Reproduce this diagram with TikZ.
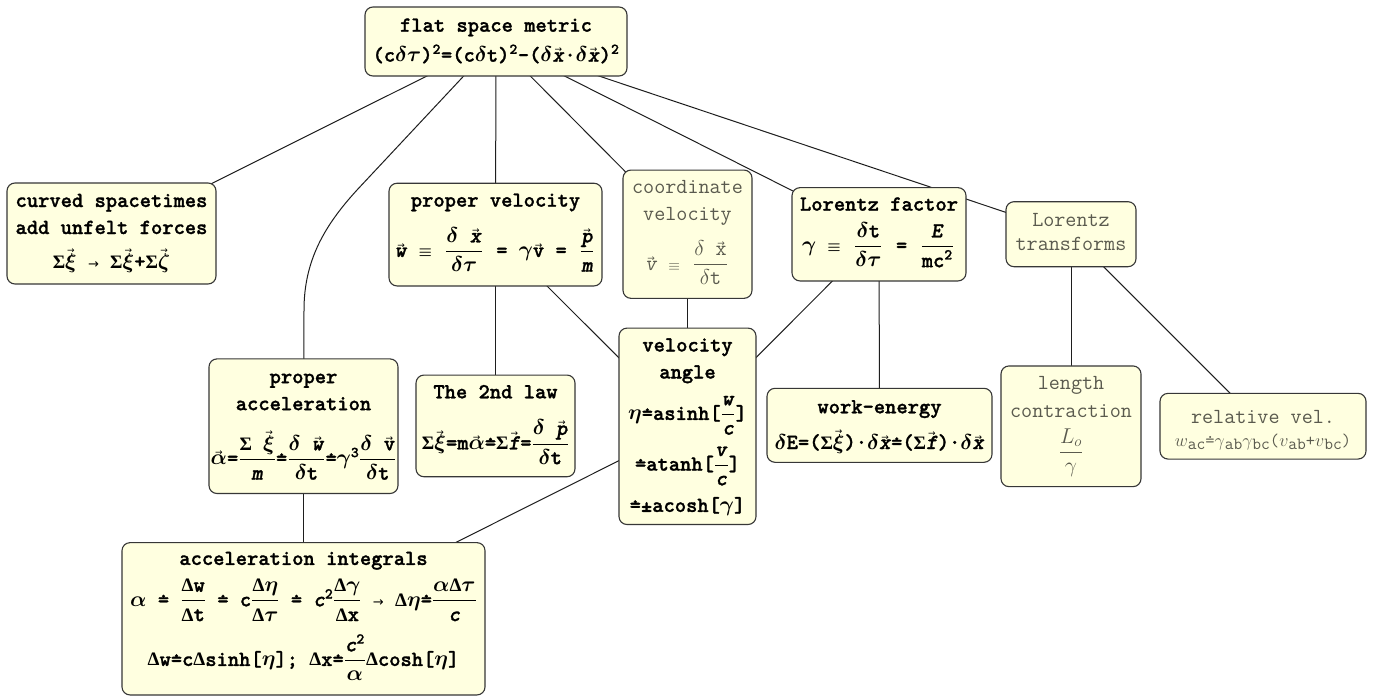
\RequirePackage{fix-cm}
\documentclass[tikz,border=0pt]{standalone}
\usepackage{amsmath}
\usepackage{graphicx}
\usepackage{fontspec}
\newfontfamily\dejavu{DejaVu Sans}
\newfontfamily\lserif{Liberation Serif}
\newfontfamily\mb{lmmonolt10-bold}[Extension=.otf, FakeBold=1.3,
  ItalicFont=lmmonolt10-boldoblique, SlantedFont=lmmonolt10-boldoblique,
  BoldFont=lmmonolt10-bold]
\usetikzlibrary{backgrounds}
\definecolor{boxfill}{RGB}{255,255,224}
\definecolor{boxline}{RGB}{55,55,55}
\definecolor{graytext}{RGB}{90,90,78}
\definecolor{linkcol}{RGB}{30,30,30}
\newsavebox\vvbox
\newlength\vvh
\newcommand\vv[1]{\sbox\vvbox{#1}\setlength\vvh{\ht\vvbox}\addtolength\vvh{-0.5pt}\leavevmode\rlap{\makebox[\wd\vvbox]{\raisebox{\vvh}{\fontsize{9}{9}\selectfont\dejavu →}}}\usebox\vvbox}
\newcommand\deq{\leavevmode\rlap{\makebox[0.525em]{\raisebox{.40em}{.}}}=}
\newcommand\I[1]{\textsl{#1}}
\newcommand\bg[1]{$\boldsymbol{#1}$}
\newcommand\Sg{{\lserif\bfseries\fontsize{19}{19}\selectfont Σ}}
\newcommand\Dl{{\lserif\bfseries\fontsize{19}{19}\selectfont Δ}}
\newcommand\eqv{{\fontsize{15}{15}\selectfont$\boldsymbol{\equiv}$}}
\newcommand\ar{{\fontsize{13}{13}\selectfont\dejavu →}}
\newcommand\fr[2]{$\genfrac{}{}{1pt}{0}{\text{#1}}{\text{#2}}$}
\newcommand\frs[2]{\hspace{2pt}$\genfrac{}{}{1pt}{0}{\text{#1}}{\text{#2}}$\hspace{2pt}}
\newcommand\tS[1]{\rule{0pt}{#1pt}}
\newcommand\bS[1]{\rule[-#1pt]{0pt}{#1pt}}
\newcommand\lsub[1]{\raisebox{-3pt}{\fontsize{17}{17}\selectfont #1}}
\newcommand\mysetup{\lineskiplimit-200pt\relax}
\newcommand\blackfont{\mb\fontsize{21.5}{27}\selectfont\mysetup}
\newcommand\grayfont{\ttfamily\mdseries\fontsize{21.5}{27}\selectfont\mysetup}
\begin{document}
\begin{tikzpicture}[x=1pt,y=-1pt,
  box/.style={draw=boxline, fill=boxfill, rounded corners=8pt, line width=1.1pt,
    align=center, inner sep=0pt, font=\blackfont},
  gbox/.style={box, text=graytext, font=\grayfont},
  link/.style={draw=linkcol, line width=1pt}]
\useasboundingbox (0,0) rectangle (1383,696);

\node[box, minimum width=262, minimum height=69] (flat) at (496,41.5)
 {\tS{24.7}flat space metric\\[3pt]
  (c\bg{\delta\tau})\textsuperscript{2}=(c\bg{\delta}t)\textsuperscript{2}-(\bg{\delta}\vv{\I{x}}·\bg{\delta}\vv{\I{x}})\textsuperscript{2}\bS{14.3}};

\node[box, minimum width=209, minimum height=101] (curved) at (111.5,233.5)
 {\tS{24}curved spacetimes\\[0pt]add unfelt forces\\[7pt]
  \Sg\vv{\bg{\xi}} \ar{} \Sg\vv{\bg{\xi}}+\Sg\vv{\bg{\zeta}}\bS{16}};

\node[box, minimum width=213, minimum height=102.7] (pvel) at (495.5,234.6)
 {\tS{23.4}proper velocity\\[23.3pt]
  \vv{\I{w}} \eqv{} \frs{\bg{\delta} \vv{\I{x}}}{\bg{\delta\tau}} = \bg{\gamma}\vv{v} = \frs{\vv{\I{p}}}{\I{m}}\bS{29}};

\node[gbox, minimum width=129, minimum height=128.3] (cvel) at (687.5,234.2)
 {\tS{23.3}coordinate\\[0.4pt]velocity\\[22.3pt]
  \vv{\I{v}} {\fontsize{15}{15}\selectfont$\equiv$} \frs{$\delta$ \vv{x}}{$\delta$t}\bS{28.3}};

\node[box, minimum width=174, minimum height=93.3] (lfac) at (879,234.3)
 {\tS{23}Lorentz factor\\[14.3pt]
  \bg{\gamma} \eqv{} \frs{\bg{\delta}t}{\bg{\delta\tau}} = \frs{\I{E}}{mc\textsuperscript{2}}\bS{29}};

\node[gbox, minimum width=130, minimum height=65] (ltr) at (1071,234.2)
 {\tS{25}Lorentz\\[-3pt]transforms\bS{16}};

\node[box, minimum width=189, minimum height=134.3] (pacc) at (303.5,426.2)
 {\tS{24.3}proper\\[0pt]acceleration\\[27.7pt]
  \vv{\bg{\alpha}}=\fr{\Sg{} \vv{\bg{\xi}}}{\I{m}}\deq\fr{\bg{\delta} \vv{\I{w}}}{\bg{\delta}t}\deq\bg{\gamma}\textsuperscript{3}\fr{\bg{\delta} \vv{v}}{\bg{\delta}t}\bS{28.6}};

\node[box, minimum width=159, minimum height=101.7] (law2) at (495.5,425.9)
 {\tS{23.3}The 2nd law\\[24.1pt]
  \Sg\vv{\bg{\xi}}=m\vv{\bg{\alpha}}\deq\Sg\vv{\I{f}}=\fr{\bg{\delta} \vv{\I{p}}}{\bg{\delta}t}\bS{27.3}};

\node[box, minimum width=137, minimum height=196] (vang) at (687.5,426.3)
 {\tS{23.4}velocity\\[0pt]angle\\[14.4pt]
  \bg{\eta}\deq asinh[\fr{\I{w}}{\I{c}}]\\[23.7pt]
  \deq atanh[\fr{\I{v}}{\I{c}}]\\[14.3pt]
  \deq±acosh[\bg{\gamma}]\bS{12.6}};

\node[box, minimum width=225, minimum height=74] (work) at (879.5,425.3)
 {\tS{25}work-energy\\[8.7pt]
  \bg{\delta}E=(\Sg\vv{\bg{\xi}})·\bg{\delta}\vv{\I{x}}\deq(\Sg\vv{\I{f}})·\bg{\delta}\vv{\I{x}}\bS{13.3}};

\node[gbox, minimum width=140, minimum height=120.7] (lcon) at (1071,426.3)
 {\tS{24}length\\[0.3pt]contraction\\[13.7pt]
  $\genfrac{}{}{1pt}{0}{L_o}{\gamma}$\bS{28.7}};

\node[gbox, minimum width=206, minimum height=65.7] (rvel) at (1263,426.2)
 {\tS{30}relative vel.\\[-4.3pt]
  {\fontsize{18}{18}\selectfont $w$\lsub{ac}\deq$\gamma$\lsub{ab}$\gamma$\lsub{bc}($v$\lsub{ab}+$v$\lsub{bc})}\bS{13}};

\node[box, minimum width=363, minimum height=152.3] (aint) at (303.5,618.8)
 {\tS{22.3}acceleration integrals\\[14.4pt]
  \bg{\alpha} \deq{} \fr{\Dl{}w}{\Dl{}t} \deq{} c\fr{\Dl\bg{\eta}}{\Dl\bg{\tau}} \deq{} \I{c}\textsuperscript{2}\fr{\Dl\bg{\gamma}}{\Dl{}x} \ar{} \Dl\bg{\eta}\deq\fr{\bg{\alpha}\Dl\bg{\tau}}{\I{c}}\\[32.6pt]
  \Dl{}w\deq c\Dl{}sinh[\bg{\eta}]; \Dl{}x\deq\fr{\I{c}\textsuperscript{2}}{\bg{\alpha}}\Dl{}cosh[\bg{\eta}]\bS{29}};

\coordinate (k1) at (357,190);
\coordinate (k2) at (304,310);

\begin{scope}[on background layer]
  \fill[white] (0,0) rectangle (1383,696);
  \draw[link] (flat.center) -- (curved.center);
  \draw[link] (flat.center) -- (k1) .. controls (325,225) and (304,260) .. (k2) -- (pacc.center);
  \draw[link] (flat.center) -- (pvel.center);
  \draw[link] (flat.center) -- (cvel.center);
  \draw[link] (flat.center) -- (lfac.center);
  \draw[link] (flat.center) -- (ltr.center);
  \draw[link] (pvel.center) -- (law2.center);
  \draw[link] (pvel.center) -- (vang.center);
  \draw[link] (cvel.center) -- (vang.center);
  \draw[link] (lfac.center) -- (vang.center);
  \draw[link] (lfac.center) -- (work.center);
  \draw[link] (ltr.center) -- (lcon.center);
  \draw[link] (ltr.center) -- (rvel.center);
  \draw[link] (pacc.center) -- (aint.center);
  \draw[link] (vang.center) -- (aint.center);
\end{scope}
\end{tikzpicture}
\end{document}
